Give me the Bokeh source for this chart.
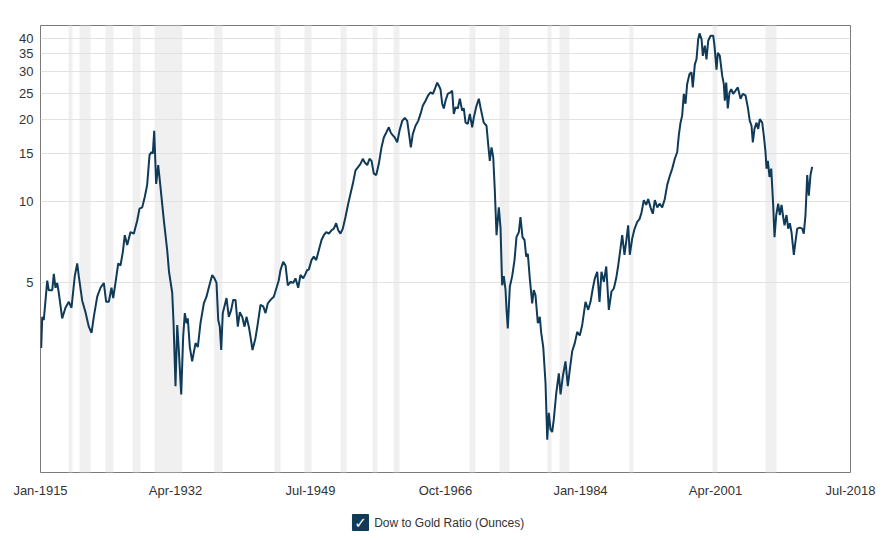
from bokeh.plotting import figure
from bokeh.models import FixedTicker, BoxAnnotation, BasicTickFormatter, Range1d
from bokeh.layouts import column
from bokeh.core.properties import value
from bokeh.embed import file_html
from bokeh.resources import INLINE

series_name = "Dow to Gold Ratio (Ounces)"

years = [
    1915.09, 1915.22, 1915.42, 1915.86, 1916.06, 1916.50, 1916.70, 1916.92, 1917.13, 1917.34,
    1917.77, 1918.19, 1918.62, 1918.96, 1919.38, 1919.69, 1919.89, 1920.33, 1920.75, 1921.17,
    1921.52, 1921.81, 1922.25, 1922.67, 1923.09, 1923.39, 1923.73, 1924.07, 1924.29, 1924.58,
    1924.93, 1925.22, 1925.52, 1925.77, 1926.08, 1926.50, 1926.92, 1927.36, 1927.65, 1928.00,
    1928.33, 1928.63, 1928.93, 1929.18, 1929.35, 1929.53, 1929.78, 1930.04, 1930.33, 1930.76,
    1931.19, 1931.42, 1931.83, 1932.00, 1932.25, 1932.47, 1932.67, 1932.98, 1933.23, 1933.44,
    1933.66, 1933.82, 1934.08, 1934.38, 1934.81, 1935.10, 1935.44, 1935.87, 1936.21, 1936.50,
    1936.94, 1937.23, 1937.49, 1937.71, 1937.91, 1938.09, 1938.29, 1938.55, 1938.77, 1939.06,
    1939.37, 1939.62, 1939.92, 1940.21, 1940.47, 1940.77, 1941.07, 1941.32, 1941.62, 1941.83,
    1942.09, 1942.47, 1942.77, 1943.11, 1943.46, 1943.75, 1944.04, 1944.39, 1944.81, 1945.16,
    1945.45, 1945.67, 1946.01, 1946.31, 1946.60, 1946.95, 1947.29, 1947.58, 1947.93, 1948.22,
    1948.57, 1948.86, 1949.08, 1949.28, 1949.63, 1949.92, 1950.23, 1950.56, 1950.91, 1951.20,
    1951.51, 1951.84, 1952.18, 1952.48, 1952.78, 1953.04, 1953.33, 1953.63, 1953.97, 1954.32,
    1954.61, 1954.91, 1955.25, 1955.60, 1955.89, 1956.18, 1956.44, 1956.75, 1957.04, 1957.30,
    1957.59, 1957.90, 1958.23, 1958.57, 1958.87, 1959.17, 1959.51, 1959.76, 1960.02, 1960.27,
    1960.58, 1960.87, 1961.22, 1961.55, 1961.86, 1962.15, 1962.32, 1962.57, 1962.92, 1963.26,
    1963.56, 1963.85, 1964.20, 1964.54, 1964.83, 1965.13, 1965.38, 1965.69, 1965.90, 1966.11,
    1966.33, 1966.53, 1966.75, 1967.04, 1967.39, 1967.60, 1967.81, 1968.03, 1968.32, 1968.58,
    1968.88, 1969.09, 1969.31, 1969.60, 1969.86, 1970.16, 1970.37, 1970.71, 1971.01, 1971.22,
    1971.44, 1971.64, 1971.99, 1972.20, 1972.41, 1972.63, 1972.85, 1973.05, 1973.27, 1973.56,
    1973.78, 1973.99, 1974.20, 1974.42, 1974.55, 1974.71, 1974.97, 1975.27, 1975.57, 1975.82,
    1976.12, 1976.33, 1976.59, 1976.85, 1977.06, 1977.27, 1977.52, 1977.83, 1978.03, 1978.25,
    1978.55, 1978.80, 1978.98, 1979.24, 1979.53, 1979.75, 1979.95, 1980.17, 1980.38, 1980.59,
    1980.90, 1981.23, 1981.45, 1981.74, 1982.08, 1982.38, 1982.63, 1982.94, 1983.27, 1983.58,
    1983.91, 1984.22, 1984.64, 1984.99, 1985.28, 1985.57, 1985.83, 1986.14, 1986.43, 1986.68,
    1986.98, 1987.29, 1987.62, 1987.96, 1988.26, 1988.56, 1988.82, 1989.11, 1989.33, 1989.62,
    1989.84, 1990.09, 1990.30, 1990.61, 1990.90, 1991.25, 1991.54, 1991.80, 1992.09, 1992.40,
    1992.65, 1992.95, 1993.24, 1993.50, 1993.81, 1994.10, 1994.44, 1994.77, 1995.08, 1995.37,
    1995.72, 1996.05, 1996.36, 1996.56, 1996.78, 1996.99, 1997.20, 1997.42, 1997.63, 1997.93,
    1998.18, 1998.35, 1998.61, 1998.82, 1999.04, 1999.21, 1999.47, 1999.63, 1999.89, 2000.10,
    2000.32, 2000.62, 2000.96, 2001.12, 2001.38, 2001.55, 2001.80, 2002.11, 2002.31, 2002.44,
    2002.62, 2002.82, 2003.04, 2003.26, 2003.51, 2003.81, 2004.10, 2004.45, 2004.74, 2005.08,
    2005.38, 2005.63, 2005.85, 2006.02, 2006.23, 2006.49, 2006.71, 2006.91, 2007.22, 2007.42,
    2007.64, 2007.77, 2007.94, 2008.15, 2008.37, 2008.62, 2008.79, 2009.01, 2009.26, 2009.47,
    2009.69, 2009.90, 2010.07, 2010.32, 2010.54, 2010.75, 2010.96, 2011.26, 2011.47, 2011.69,
    2012.02, 2012.33, 2012.53, 2012.75, 2012.97, 2013.17, 2013.39, 2013.60,
]

ratio = [
    2.88, 3.75, 3.65, 5.10, 4.70, 4.70, 5.40, 4.80, 5.00, 4.60,
    3.70, 4.05, 4.26, 4.05, 5.30, 5.90, 5.30, 4.30, 3.90, 3.45,
    3.27, 3.75, 4.45, 4.80, 5.00, 4.26, 4.26, 4.80, 4.40, 5.00,
    5.90, 5.80, 6.50, 7.50, 6.90, 7.70, 7.60, 8.50, 9.40, 9.50,
    10.40, 11.50, 14.80, 15.20, 15.00, 18.20, 11.60, 13.60, 11.30, 8.50,
    6.60, 5.50, 4.60, 3.56, 2.08, 3.50, 2.83, 1.94, 3.17, 3.87,
    3.55, 3.70, 2.90, 2.57, 3.00, 2.90, 3.55, 4.20, 4.45, 4.80,
    5.35, 5.20, 5.00, 3.65, 3.45, 2.83, 3.87, 4.15, 4.40, 3.75,
    3.98, 4.33, 4.33, 3.45, 3.90, 3.75, 3.45, 3.75, 3.45, 3.17,
    2.83, 3.13, 3.55, 4.15, 4.10, 3.87, 4.20, 4.33, 4.45, 4.80,
    5.12, 5.58, 5.98, 5.80, 4.90, 5.05, 5.00, 5.20, 4.80, 5.35,
    5.20, 5.40, 5.58, 5.60, 6.07, 6.25, 6.07, 6.60, 7.20, 7.50,
    7.70, 7.60, 7.82, 7.93, 8.30, 7.82, 7.60, 7.93, 8.75, 9.80,
    10.67, 11.60, 13.00, 13.40, 13.75, 14.35, 13.90, 13.60, 14.35, 14.10,
    12.65, 12.50, 13.75, 15.80, 17.20, 17.90, 18.75, 17.90, 17.50, 17.20,
    16.50, 18.20, 19.80, 20.30, 19.80, 17.20, 15.80, 17.70, 19.00, 19.80,
    21.00, 22.50, 23.50, 24.60, 25.20, 24.90, 25.90, 27.40, 26.70, 25.90,
    22.90, 22.00, 23.50, 24.90, 25.20, 25.60, 21.00, 22.20, 22.00, 23.90,
    21.60, 22.00, 19.50, 19.30, 21.00, 18.75, 20.40, 22.50, 23.90, 22.20,
    20.70, 19.50, 19.00, 16.30, 14.10, 15.80, 14.55, 10.98, 7.50, 9.50,
    8.00, 4.90, 5.30, 4.71, 3.98, 3.40, 4.84, 5.30, 6.07, 7.38,
    7.70, 8.75, 7.38, 7.19, 6.25, 6.40, 5.20, 4.20, 4.71, 4.50,
    3.55, 3.75, 3.27, 2.90, 2.14, 1.32, 1.66, 1.44, 1.41, 1.57,
    1.96, 2.32, 1.94, 2.26, 2.57, 2.08, 2.39, 2.80, 3.00, 3.30,
    3.20, 3.50, 4.26, 3.98, 4.26, 4.77, 5.20, 5.50, 4.26, 5.50,
    5.05, 5.75, 3.98, 4.65, 4.77, 5.20, 5.80, 6.70, 7.50, 6.35,
    7.10, 8.16, 6.35, 7.30, 7.90, 8.40, 8.60, 9.10, 10.10, 9.70,
    10.20, 9.50, 9.00, 10.10, 9.50, 9.80, 9.50, 10.20, 11.50, 12.30,
    13.20, 14.35, 15.20, 17.50, 19.50, 20.70, 24.90, 22.90, 27.10, 29.50,
    29.90, 26.30, 32.00, 33.40, 39.60, 41.60, 39.60, 34.40, 37.50, 33.40,
    39.10, 40.80, 40.80, 37.50, 30.60, 35.30, 34.40, 29.00, 27.10, 23.50,
    27.40, 22.00, 25.20, 25.90, 24.90, 25.60, 26.30, 23.90, 24.90, 24.60,
    22.20, 19.80, 19.00, 16.50, 18.50, 19.50, 18.50, 20.10, 19.50, 17.50,
    15.20, 13.20, 14.10, 12.30, 13.20, 9.70, 7.38, 8.90, 9.80, 8.90,
    9.70, 8.75, 8.16, 8.90, 7.93, 8.30, 7.70, 6.35, 7.10, 7.93,
    8.00, 7.93, 7.60, 8.90, 12.50, 10.50, 12.50, 13.40,
]

rec_start = [1918.58, 1919.98, 1923.30, 1926.76, 1929.57, 1937.20, 1944.90, 1948.73, 1953.33,
             1957.42, 1960.10, 1969.82, 1973.65, 1979.78, 1981.32, 1990.26, 2000.87, 2007.64]
rec_end = [1919.09, 1921.39, 1924.33, 1927.78, 1933.10, 1938.26, 1945.67, 1949.63, 1954.10,
           1958.06, 1960.87, 1970.58, 1974.93, 1980.30, 1982.60, 1990.77, 2001.50, 2009.05]

y_ticks = [5, 10, 15, 20, 25, 30, 35, 40]
x_tick_pos = [1915, 1932.25, 1949.5, 1966.75, 1984, 2001.25, 2018.5]
x_tick_labels = ["Jan-1915", "Apr-1932", "Jul-1949", "Oct-1966", "Jan-1984", "Apr-2001", "Jul-2018"]

LINE = "#0f3a58"
FONT = "Liberation Sans"

p = figure(width=886, height=500,
           x_range=Range1d(1915, 2018.5), y_range=Range1d(1.0, 44.5),
           y_axis_type="log", output_backend="svg", toolbar_location=None,
           min_border_left=40, min_border_right=36, min_border_top=25, min_border_bottom=28)
p.background_fill_color = "white"
p.border_fill_color = "white"
p.outline_line_color = "#7a7a7a"
p.outline_line_width = 1

for s, e in zip(rec_start, rec_end):
    p.add_layout(BoxAnnotation(left=s, right=e, fill_color="#f0f0f0", fill_alpha=1.0,
                               line_color=None, level="image"))

p.line(years, ratio, line_color=LINE, line_width=2)

p.xaxis.ticker = FixedTicker(ticks=x_tick_pos)
p.xaxis.major_label_overrides = dict(zip(x_tick_pos, x_tick_labels))
p.yaxis.ticker = FixedTicker(ticks=y_ticks)
p.yaxis.formatter = BasicTickFormatter()
p.ygrid.ticker = FixedTicker(ticks=y_ticks)
p.xgrid.visible = False
p.ygrid.grid_line_color = "#e2e2e2"
p.ygrid.grid_line_width = 1

for ax in (p.xaxis, p.yaxis):
    ax.axis_line_color = None
    ax.major_tick_line_color = None
    ax.minor_tick_line_color = None
    ax.major_tick_out = 0
    ax.major_tick_in = 0
    ax.minor_tick_out = 0
    ax.minor_tick_in = 0
    ax.major_label_text_font = FONT
    ax.major_label_text_font_size = "13px"
    ax.major_label_text_color = "#333333"
p.xaxis.major_label_standoff = 10
p.yaxis.major_label_standoff = 7

lg = figure(width=886, height=32, x_range=Range1d(0, 886), y_range=Range1d(0, 32),
            output_backend="svg", toolbar_location=None, min_border=0)
lg.axis.visible = False
lg.grid.visible = False
lg.outline_line_color = None
lg.scatter(x=[350], y=[10], marker="square", size=16, fill_color=LINE, line_color=LINE)
lg.text(x=[350], y=[10], text=["\u2713"], text_baseline="middle", text_align="center",
        text_font=value("DejaVu Sans"), text_font_size="15px", text_font_style="bold",
        text_color="white")
lg.text(x=[365], y=[10], text=[series_name], text_baseline="middle", text_align="left",
        text_font=value(FONT), text_font_size="12px", text_color="#333333")

layout = column(p, lg, spacing=0)
open("out.html", "w").write(file_html(layout, INLINE))
